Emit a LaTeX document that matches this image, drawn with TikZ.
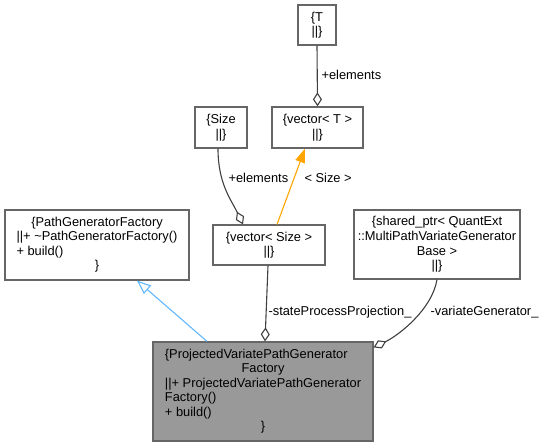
\documentclass[tikz,border=0pt]{standalone}
\usepackage{fontspec}
\setmainfont{Liberation Sans}
\usetikzlibrary{arrows.meta}

\begin{document}
\begin{tikzpicture}[x=1bp,y=-1bp]

  % ---- canvas ----
  \useasboundingbox (0,0) rectangle (542,447);

  % ---- colours ----
  \definecolor{CGBorder}{HTML}{666666}
  \definecolor{CGFill}{HTML}{999999}
  \definecolor{CGUse}{HTML}{404040}
  \definecolor{CGTmpl}{HTML}{FFA500}
  \definecolor{CGInh}{HTML}{63B8FF}

  % ---- styles ----
  \tikzset{
    classbox/.style={draw=CGBorder, line width=1.2bp, fill=white, inner sep=0pt,
      font=\fontsize{12.9}{14.6}\selectfont, align=center},
    curbox/.style={classbox, fill=CGFill},
    edgelbl/.style={anchor=west, inner sep=0pt, font=\fontsize{12.9}{14.6}\selectfont},
    usage/.style={draw=CGUse, line width=1.1bp,
      -{Diamond[open, fill=white, length=14bp, width=9bp]}},
    tmpl/.style={draw=CGTmpl, line width=1.1bp,
      -{Triangle[length=14bp, width=10bp]}},
    inherit/.style={draw=CGInh, line width=1.1bp,
      -{Triangle[open, fill=white, length=14bp, width=11bp]}}
  }

  % ---- classes ----
  \node[classbox, minimum width=38bp, minimum height=40bp] (T) at (317,25) {\{T\\||\}};
  \node[classbox, minimum width=91bp, minimum height=41bp] (vecT) at (317.5,127.5) {\{vector< T >\\||\}};
  \node[classbox, minimum width=52bp, minimum height=41bp] (Size) at (221,127.5) {\{Size\\||\}};
  \node[classbox, minimum width=112bp, minimum height=40bp] (vecSize) at (269,245) {\{vector< Size >\\||\}};
  \node[classbox, minimum width=184bp, minimum height=70bp] (pgf) at (97,245) {%
    \begin{tabular}{@{}l@{}}
      \multicolumn{1}{@{}c@{}}{\{PathGeneratorFactory}\\
      ||+ \textasciitilde PathGeneratorFactory()\\
      + build()\\
      \multicolumn{1}{@{}c@{}}{\}}
    \end{tabular}};
  \node[classbox, minimum width=166bp, minimum height=69bp] (sptr) at (437,244.5) {%
    \{shared\_ptr< QuantExt\\::MultiPathVariateGenerator\\Base >\\||\}};
  \node[curbox, minimum width=220bp, minimum height=99bp] (proj) at (263,391.5) {%
    \begin{tabular}{@{}l@{}}
      \{ProjectedVariatePathGenerator\\
      \multicolumn{1}{@{}c@{}}{Factory}\\
      ||+ ProjectedVariatePathGenerator\\
      Factory()\\
      + build()\\
      \multicolumn{1}{@{}c@{}}{\}}
    \end{tabular}};

  % ---- relations ----
  \draw[usage] (T.south) -- (vecT.north)
    node[edgelbl] (lblTel) at (321,75) {+elements};
  \draw[usage] ([xshift=-3bp]Size.south) .. controls +(0,35) and +(-12,-25) .. ([xshift=-26bp]vecSize.north)
    node[edgelbl] (lblSizeel) at (228,178) {+elements};
  \draw[tmpl] ([xshift=8bp]vecSize.north) -- ([xshift=-12.5bp]vecT.south)
    node[edgelbl] (lblTmpl) at (304,178) {< Size >};
  \draw[usage] ([xshift=-1bp]vecSize.south) -- ([xshift=2bp]proj.north)
    node[edgelbl] (lblProj) at (268,312) {-stateProcessProjection\_};
  \draw[usage] (sptr.south) .. controls +(-5,30) and +(25,-12) .. ([yshift=-6bp]proj.north east)
    node[edgelbl] (lblVar) at (430,312) {-variateGenerator\_};
  \draw[inherit] ([xshift=-56bp]proj.north) -- ([xshift=40bp]pgf.south);

\end{tikzpicture}
\end{document}
